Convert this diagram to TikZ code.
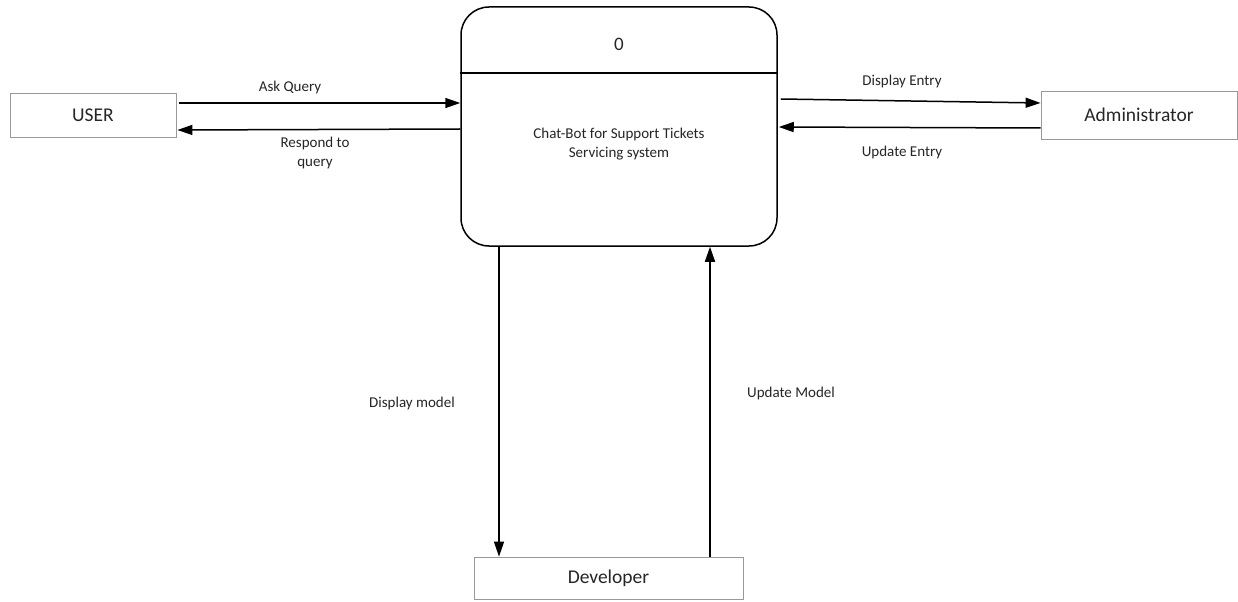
\documentclass[tikz,border=0pt]{standalone}
\usepackage{fontspec}
\setmainfont{Carlito}
\usetikzlibrary{arrows.meta}
\begin{document}
\begin{tikzpicture}[x=1bp,y=-1bp,
  entity/.style={draw=black!40, line width=0.8bp, fill=white, inner sep=0pt,
    font=\fontsize{19.5bp}{23bp}\selectfont, text=black!85},
  process/.style={draw=black, line width=1.5bp, rounded corners=28bp, inner sep=0pt},
  flow/.style={draw=black, line width=1.5bp, -{Triangle[length=15bp,width=10bp]}},
  lbl/.style={font=\fontsize{15bp}{19bp}\selectfont, text=black!85, align=center, inner sep=0pt}]
  \useasboundingbox (0,0) rectangle (1238,602);
  \fill[white] (0,0) rectangle (1238,602);

  % external entities
  \node[entity, minimum width=166bp, minimum height=44bp] (user) at (93,115) {USER};
  \node[entity, minimum width=196bp, minimum height=48bp] (admin) at (1139,115) {Administrator};
  \node[entity, minimum width=269bp, minimum height=42bp] (dev) at (608.5,578) {Developer};

  % the process
  \node[process, minimum width=316bp, minimum height=239bp] (proc) at (619,126.5) {};
  \draw[line width=1.5bp] (proc.west |- 0,73) -- (proc.east |- 0,73);
  \node[lbl, font=\fontsize{19bp}{23bp}\selectfont] (pid) at (619,44) {0};
  \node[lbl] (pname) at (619,144) {Chat-Bot for Support Tickets\\Servicing system};

  % data flows with the user
  \draw[flow] ([xshift=3bp]user.east |- 0,103) -- (proc.west |- 0,103);
  \draw[flow] (proc.west |- 0,129) -- ([xshift=1bp]user.east |- 0,130);
  \node[lbl] (askq) at (290,88) {Ask Query};
  \node[lbl] (resp) at (315,153) {Respond to\\query};

  % data flows with the administrator
  \draw[flow] ([xshift=3bp]proc.east |- 0,99) -- (admin.west |- 0,103);
  \draw[flow] (admin.west |- 0,128) -- ([xshift=1bp]proc.east |- 0,127);
  \node[lbl] (dispe) at (902,82) {Display Entry};
  \node[lbl] (upde) at (902,153) {Update Entry};

  % data flows with the developer
  \draw[flow] (proc.south -| 499,0) -- (dev.north -| 499,0);
  \draw[flow] (dev.north -| 710,0) -- (proc.south -| 710,0);
  \node[lbl] (dispm) at (412,403) {Display model};
  \node[lbl] (updm) at (791,393) {Update Model};
\end{tikzpicture}
\end{document}
